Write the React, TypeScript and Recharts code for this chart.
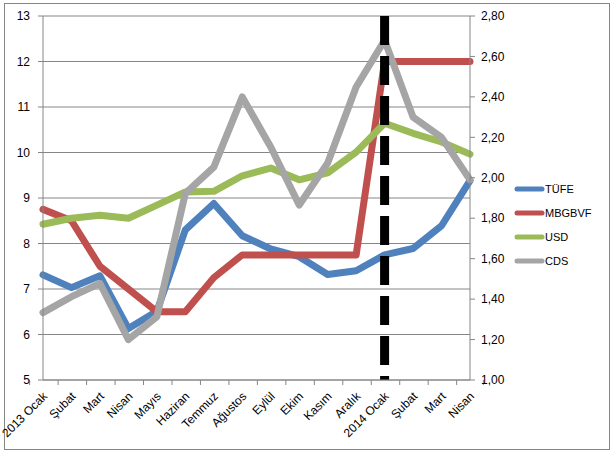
import React from "react";
import {
  Legend,
  Line,
  LineChart,
  ReferenceLine,
  XAxis,
  YAxis,
  CartesianGrid,
} from "recharts";

const months = [
  "2013 Ocak", "2013 Şubat", "2013 Mart", "2013 Nisan", "2013 Mayıs", "2013 Haziran",
  "2013 Temmuz", "2013 Ağustos", "2013 Eylül", "2013 Ekim", "2013 Kasım", "2013 Aralık",
  "2014 Ocak", "2014 Şubat", "2014 Mart", "2014 Nisan",
];

const tickLabels = [
  "2013 Ocak", "Şubat", "Mart", "Nisan", "Mayıs", "Haziran", "Temmuz", "Ağustos",
  "Eylül", "Ekim", "Kasım", "Aralık", "2014 Ocak", "Şubat", "Mart", "Nisan",
];

// left axis
const tufe = [7.31, 7.03, 7.29, 6.13, 6.51, 8.3, 8.88, 8.17, 7.88, 7.71, 7.32, 7.4, 7.75, 7.89, 8.39, 9.38];
const mbgbvf = [8.75, 8.5, 7.5, 7.0, 6.5, 6.5, 7.25, 7.75, 7.75, 7.75, 7.75, 7.75, 12, 12, 12, 12];
// right axis
const usd = [1.77, 1.8, 1.815, 1.8, 1.865, 1.93, 1.933, 2.01, 2.048, 1.99, 2.024, 2.127, 2.27, 2.22, 2.177, 2.117];
const cds = [1.333, 1.412, 1.478, 1.2, 1.313, 1.923, 2.053, 2.4, 2.152, 1.865, 2.073, 2.449, 2.68, 2.3, 2.2, 1.99];

const leftTicks = [5, 6, 7, 8, 9, 10, 11, 12, 13];
const rightTicks = [1.0, 1.2, 1.4, 1.6, 1.8, 2.0, 2.2, 2.4, 2.6, 2.8];

const data = months.map((m, i) => ({
  month: m,
  TÜFE: tufe[i],
  MBGBVF: mbgbvf[i],
  USD: usd[i],
  CDS: cds[i],
}));

const series = [
  { key: "TÜFE", color: "#4F81BD", axis: "left" },
  { key: "MBGBVF", color: "#C0504D", axis: "left" },
  { key: "USD", color: "#9BBB59", axis: "right" },
  { key: "CDS", color: "#A5A5A5", axis: "right" },
];

const FONT = "'Liberation Sans', Arial, sans-serif";
const AXIS = "#868686";

const MonthTick = (props) => {
  const { x, y, index, width, visibleTicksCount } = props;
  const band = width && visibleTicksCount ? width / visibleTicksCount : 26.7;
  const last = index === visibleTicksCount - 1;
  return (
    <g>
      <line x1={x - band / 2} y1={y} x2={x - band / 2} y2={y + 5} stroke={AXIS} />
      {last && <line x1={x + band / 2} y1={y} x2={x + band / 2} y2={y + 5} stroke={AXIS} />}
      <text
        x={x + 5}
        y={y + 17}
        textAnchor="end"
        fontSize={12}
        fontFamily={FONT}
        fill="#000"
        transform={`rotate(-45 ${x + 5} ${y + 17})`}
      >
        {tickLabels[index]}
      </text>
    </g>
  );
};

// legend keeps the series order (recharts would sort it by name)
const LegendBox = () => (
  <div style={{ fontFamily: FONT, fontSize: 11, color: "#000" }}>
    {series.map((s) => (
      <div key={s.key} style={{ display: "flex", alignItems: "center", height: 24 }}>
        <svg width={31} height={8}>
          <line x1={3} y1={4} x2={28} y2={4} stroke={s.color} strokeWidth={5} strokeLinecap="round" />
        </svg>
        <span>{s.key}</span>
      </div>
    ))}
  </div>
);

export default function App() {
  return (
    <div style={{ position: "absolute", left: 0, top: 0, width: 613, height: 455, background: "#fff" }}>
      <div
        style={{
          position: "absolute",
          left: 4,
          top: 3,
          width: 604,
          height: 445,
          border: `1px solid ${AXIS}`,
        }}
      />
      <LineChart
        width={613}
        height={455}
        data={data}
        margin={{ top: 16, right: 0, left: 0, bottom: 0 }}
        style={{ position: "absolute", left: 0, top: 0 }}
      >
        <CartesianGrid yAxisId="left" vertical={false} stroke={AXIS} strokeOpacity={1} />
        <XAxis
          dataKey="month"
          height={75}
          interval={0}
          stroke={AXIS}
          tickLine={false}
          tickSize={0}
          tickMargin={0}
          tick={<MonthTick />}
        />
        <YAxis
          yAxisId="left"
          orientation="left"
          width={43}
          domain={[5, 13]}
          ticks={leftTicks}
          interval={0}
          stroke={AXIS}
          tickSize={5}
          tickMargin={8}
          tick={{ fill: "#000", fontSize: 12, fontFamily: FONT }}
        />
        <YAxis
          yAxisId="right"
          orientation="right"
          width={143}
          domain={[1, 2.8]}
          ticks={rightTicks}
          interval={0}
          stroke={AXIS}
          tickSize={5}
          tickMargin={6}
          tickFormatter={(v) => v.toFixed(2).replace(".", ",")}
          tick={{ fill: "#000", fontSize: 12, fontFamily: FONT }}
        />
        {series.map((s) => (
          <Line
            key={s.key}
            yAxisId={s.axis}
            dataKey={s.key}
            stroke={s.color}
            strokeWidth={7}
            strokeLinecap="round"
            strokeLinejoin="round"
            dot={false}
            activeDot={false}
            type="linear"
            isAnimationActive={false}
          />
        ))}
        <ReferenceLine
          yAxisId="left"
          segment={[
            { x: "2014 Ocak", y: 13 },
            { x: "2014 Ocak", y: 5 },
          ]}
          stroke="#000"
          strokeWidth={9}
          strokeDasharray="29 11"
        />
        <Legend
          layout="horizontal"
          verticalAlign="middle"
          align="center"
          content={<LegendBox />}
          wrapperStyle={{ position: "absolute", left: 514, top: 177, width: 90, height: 100 }}
        />
      </LineChart>
    </div>
  );
}
